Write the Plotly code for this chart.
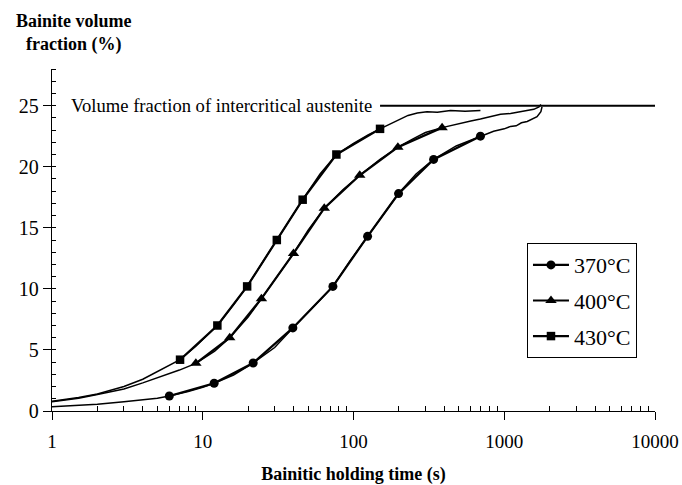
import plotly.graph_objects as go
import math

FONT = "Liberation Serif"

# ---------------- data ----------------
# raw transformation curves (time in s, bainite fraction in %)
curve_t_370 = [1, 1.5, 2, 3, 4, 5, 6, 8, 10, 11.9, 16, 21.6, 30, 39.6, 55, 73, 95, 124, 160, 199,
               260, 340, 480, 695, 850, 1000, 1100, 1200, 1300, 1420, 1550, 1650, 1750, 1780]
curve_v_370 = [0.35, 0.45, 0.55, 0.75, 0.9, 1.05, 1.23, 1.6, 1.95, 2.27, 2.95, 3.93, 5.2, 6.8, 8.6, 10.2, 12.3, 14.3, 16.2, 17.8,
               19.4, 20.6, 21.7, 22.5, 22.9, 23.1, 23.3, 23.35, 23.6, 23.7, 23.9, 24.1, 24.5, 24.9]

curve_t_400 = [1, 1.5, 2, 3, 4, 5, 6, 7, 9, 12, 15.1, 20, 24.5, 32, 40, 50, 64, 85, 110, 150, 197,
               250, 300, 387, 450, 512, 600, 695, 800, 944, 1100, 1217, 1400, 1570, 1700, 1750]
curve_v_400 = [0.75, 1.05, 1.35, 1.8, 2.3, 2.7, 3.05, 3.35, 3.9, 4.9, 6.0, 7.7, 9.2, 11.2, 12.9, 14.8, 16.6, 18.1, 19.3, 20.6, 21.6,
               22.3, 22.8, 23.2, 23.4, 23.6, 23.75, 23.9, 24.1, 24.3, 24.35, 24.45, 24.6, 24.7, 24.9, 25.1]

curve_t_430 = [1, 1.5, 2, 3, 4, 5, 6, 7.07, 9, 12.5, 16, 19.7, 25, 31, 38, 46, 60, 77, 100, 125, 150,
               175, 194, 230, 265, 307, 360, 440, 550, 695]
curve_v_430 = [0.8, 1.1, 1.4, 2.0, 2.6, 3.2, 3.7, 4.2, 5.3, 7.0, 8.7, 10.2, 12.2, 14.0, 15.8, 17.3, 19.4, 21.0, 21.9, 22.6, 23.1,
               23.5, 23.8, 24.2, 24.4, 24.5, 24.45, 24.6, 24.55, 24.6]

# marked points
mark_t_370 = [6.0, 11.9, 21.6, 39.6, 73, 124, 199, 340, 695]
mark_v_370 = [1.23, 2.27, 3.93, 6.8, 10.2, 14.3, 17.8, 20.6, 22.5]

mark_t_400 = [9.0, 15.1, 24.5, 40, 64, 110, 197, 387]
mark_v_400 = [3.9, 6.0, 9.2, 12.9, 16.6, 19.3, 21.6, 23.2]

mark_t_430 = [7.07, 12.5, 19.7, 31, 46, 77, 150]
mark_v_430 = [4.2, 7.0, 10.2, 14.0, 17.3, 21.0, 23.1]

series_names = ["370°C", "400°C", "430°C"]

# intercritical austenite level
austenite_t = [150, 10000]
austenite_v = [25, 25]
austenite_label = "Volume fraction of intercritical austenite"

x_tickvals = [1, 10, 100, 1000, 10000]
x_ticktext = ["1", "10", "100", "1000", "10000"]

# ---------------- figure ----------------
fig = go.Figure()

curves = [(curve_t_370, curve_v_370), (curve_t_400, curve_v_400), (curve_t_430, curve_v_430)]
marks = [(mark_t_370, mark_v_370, "circle", 9),
         (mark_t_400, mark_v_400, "triangle-up", 10),
         (mark_t_430, mark_v_430, "square", 8.5)]

for (ct, cv) in curves:
    fig.add_trace(go.Scatter(x=ct, y=cv, mode="lines",
                             line=dict(color="black", width=1.5),
                             showlegend=False, hoverinfo="skip"))

for name, (mt, mv, sym, ms) in zip(series_names, marks):
    fig.add_trace(go.Scatter(x=mt, y=mv, mode="lines+markers", name=name,
                             legendgroup=name,
                             line=dict(color="black", width=2.2),
                             marker=dict(symbol=sym, size=ms, color="black")))

fig.add_trace(go.Scatter(x=austenite_t, y=austenite_v, mode="lines",
                         line=dict(color="black", width=2),
                         showlegend=False, hoverinfo="skip"))

fig.add_annotation(x=math.log10(austenite_t[0]), y=austenite_v[0], xref="x", yref="y",
                   text=austenite_label, showarrow=False, xanchor="right", yanchor="middle",
                   xshift=-6, font=dict(family=FONT, size=18.6, color="black"))

fig.add_annotation(x=0.036, y=1.105, xref="paper", yref="paper",
                   text="<b>Bainite volume<br>fraction (%)</b>", showarrow=False,
                   xanchor="center", yanchor="middle", align="center",
                   font=dict(family=FONT, size=18, color="black"))

fig.update_layout(
    width=682, height=485,
    margin=dict(l=52, r=27, t=69, b=74, autoexpand=False),
    paper_bgcolor="white", plot_bgcolor="white",
    font=dict(family=FONT, color="black"),
    showlegend=True,
    legend=dict(x=0.7877, y=0.491, xanchor="left", yanchor="top",
                bgcolor="white", bordercolor="black", borderwidth=1,
                font=dict(family=FONT, size=22, color="black"),
                itemwidth=36, tracegroupgap=4),
    xaxis=dict(type="log", range=[0, 4], showline=True, linecolor="black", linewidth=1.3,
               automargin=False,
               ticks="outside", ticklen=8, tickcolor="black", tickwidth=1,
               tickvals=x_tickvals, ticktext=x_ticktext,
               tickfont=dict(family=FONT, size=19, color="black"),
               ticklabelstandoff=5,
               showgrid=False, zeroline=False,
               minor=dict(ticks="inside", ticklen=5, tickcolor="black", tickwidth=1,
                          tickvals=[m * d for d in [1, 10, 100, 1000] for m in range(2, 10)],
                          showgrid=False),
               title=dict(text="<b>Bainitic holding time (s)</b>", standoff=17,
                          font=dict(family=FONT, size=18, color="black"))),
    yaxis=dict(range=[0, 28], showline=True, linecolor="black", linewidth=1.3,
               automargin=False,
               tick0=0, dtick=5, ticks="outside", ticklen=8, tickcolor="black", tickwidth=1,
               tickfont=dict(family=FONT, size=20, color="black"),
               showgrid=False, zeroline=False,
               minor=dict(ticks="inside", ticklen=4, tickcolor="black", tickwidth=1, dtick=1,
                          showgrid=False)),
)

fig.write_html("out.html", config={"displayModeBar": False},
               post_script="document.body.style.margin='0';")
